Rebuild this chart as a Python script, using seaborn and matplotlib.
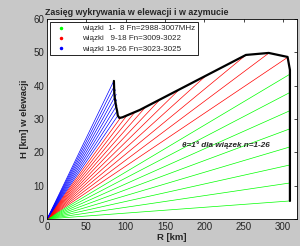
import numpy as np
import pandas as pd
import matplotlib
matplotlib.use("Agg")
import matplotlib.pyplot as plt
import seaborn as sns
from matplotlib.lines import Line2D

# beam elevation angles [deg] and slant range to the coverage edge [km]
beam_no = list(range(1, 27))
elev_deg = [1, 2, 3, 4, 5, 6, 7, 8,
            9, 10, 11, 12, 13, 14, 15, 16, 17, 18,
            19, 20, 21, 22, 23, 24, 25, 26]
range_km = [309.0, 309.2, 309.4, 309.8, 310.2, 310.7, 311.3, 312.0,
            310.0, 285.0, 257.6, 206.5, 172.5, 148.0, 129.8, 116.5, 106.7, 98.4,
            95.0, 95.2, 95.3, 95.4, 95.6, 95.2, 94.9, 94.6]
group = ["g"] * 8 + ["r"] * 10 + ["b"] * 8

# coverage envelope
env_r = [85, 85.5, 86, 87, 88, 89, 90, 92, 96, 105, 118, 253, 282, 306, 309, 309]
env_h = [41.4, 38, 36.5, 35, 33.5, 32.5, 31, 30.3, 30.5, 31.4, 32.7, 49.2, 49.8, 48.6, 44.7, 5.4]

legend_labels = ["wiązki  1-  8 Fn=2988-3007MHz",
                 "wiązki   9-18 Fn=3009-3022",
                 "wiązki 19-26 Fn=3023-3025"]

rows = []
for n, a, rg, g in zip(beam_no, elev_deg, range_km, group):
    rows.append({"beam": n, "grp": g, "R": 0.0, "H": 0.0})
    rows.append({"beam": n, "grp": g, "R": rg * np.cos(np.radians(a)),
                 "H": rg * np.sin(np.radians(a))})
df = pd.DataFrame(rows)

sns.set_style("white")
plt.rcParams["font.family"] = ["Liberation Sans", "DejaVu Sans"]

fig = plt.figure(figsize=(3.0, 2.46), dpi=100, facecolor="#c8c8c8")
ax = fig.add_axes([0.157, 0.110, 0.833, 0.813])
ax.set_facecolor("white")

pal = {"g": "#00ff00", "r": "#ff0000", "b": "#0000ff"}
sns.lineplot(data=df, x="R", y="H", units="beam", estimator=None, hue="grp",
             palette=pal, linewidth=0.5, legend=False, ax=ax, sort=False)
ax.plot(env_r, env_h, color="black", linewidth=1.6)

ax.set_xlim(0, 318)
ax.set_ylim(0, 60)
ax.set_xticks(range(0, 301, 50))
ax.set_yticks(range(0, 61, 10))
ax.tick_params(direction="in", length=2.5, width=0.6, labelsize=7,
               top=True, right=True, pad=2)
for s in ax.spines.values():
    s.set_linewidth(0.6)
    s.set_color("black")

ax.set_title("Zasięg wykrywania w elewacji i w azymucie", fontsize=6.4,
             fontweight="bold", loc="left", x=-0.01, pad=3)
ax.set_xlabel("R [km]", fontsize=6.8, fontweight="bold", labelpad=1)
ax.set_ylabel("H [km] w elewacji", fontsize=6.8, fontweight="bold", labelpad=3)

ax.text(172, 21.6, "θ=1° dla wiązek n=1-26", fontsize=5.9, fontstyle="italic",
        fontweight="bold")

handles = [Line2D([], [], linestyle="none", marker=".", markersize=3, color=pal[k])
           for k in ["g", "r", "b"]]
leg = ax.legend(handles, legend_labels, loc="upper left", bbox_to_anchor=(0.012, 0.985),
                borderaxespad=0, fontsize=5.8, frameon=True, fancybox=False,
                framealpha=1, edgecolor="black", handletextpad=1.6, borderpad=0.35,
                labelspacing=0.3, handlelength=2.0)
leg.get_frame().set_linewidth(0.6)

fig.savefig("out.png", dpi=100, facecolor=fig.get_facecolor())
